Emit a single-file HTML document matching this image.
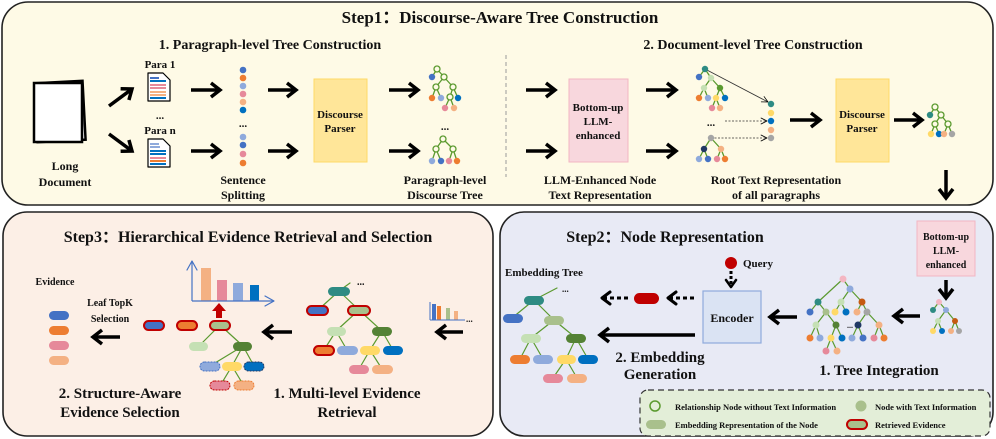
<!DOCTYPE html>
<html><head><meta charset="utf-8"><style>
html,body{margin:0;padding:0;background:#fff}
svg{display:block}
text{font-family:"Liberation Serif",serif;font-weight:bold;fill:#111}
path{stroke-linejoin:round;stroke-linecap:round}
</style></head><body>
<svg width="996" height="439" viewBox="0 0 996 439" xmlns="http://www.w3.org/2000/svg">
<defs>
<marker id="a" markerUnits="userSpaceOnUse" markerWidth="14" markerHeight="18" refX="11" refY="9" orient="auto"><path d="M2,2 L11,9 L2,16" fill="none" stroke="#000" stroke-width="3.5" style="stroke-linejoin:miter;stroke-linecap:butt"/></marker>
<marker id="s" markerUnits="userSpaceOnUse" markerWidth="8" markerHeight="8" refX="7" refY="4" orient="auto"><path d="M1,1 L7,4 L1,7" fill="none" stroke="#000" stroke-width="0.8"/></marker>
<marker id="r" markerUnits="userSpaceOnUse" markerWidth="12" markerHeight="12" refX="10" refY="6" orient="auto"><path d="M1,1 L10,6 L1,11" fill="none" stroke="#4472c4" stroke-width="1.2"/></marker>
</defs>

<!-- Step1 box -->
<rect x="2" y="2" width="991" height="203" rx="26" fill="#fefae6" stroke="#222" stroke-width="1.6"/>
<text x="500" y="23" font-size="17" text-anchor="middle">Step1：Discourse-Aware Tree Construction</text>
<text x="270" y="49" font-size="14" text-anchor="middle">1. Paragraph-level Tree Construction</text>
<text x="753" y="49" font-size="14" text-anchor="middle">2. Document-level Tree Construction</text>
<line x1="506" y1="55" x2="506" y2="177" stroke="#999" stroke-width="1" stroke-dasharray="4,3"/>

<!-- Long doc -->
<rect x="36" y="82" width="48" height="59" fill="#fff" stroke="#000" stroke-width="2.5" transform="rotate(-3 60 110)"/>
<rect x="34" y="83" width="48" height="59" fill="#fff" stroke="#000" stroke-width="2.5"/>
<text x="65" y="170" font-size="12" text-anchor="middle">Long</text>
<text x="65" y="186" font-size="12" text-anchor="middle">Document</text>
<g stroke="#000" stroke-width="3.5" marker-end="url(#a)">
<line x1="109" y1="106" x2="132" y2="89"/>
<line x1="109" y1="134" x2="132" y2="151"/>
</g>
<text x="160" y="68" font-size="11" text-anchor="middle">Para 1</text>
<text x="160" y="119" font-size="11" text-anchor="middle">...</text>
<text x="160" y="134" font-size="11" text-anchor="middle">Para n</text>
<!-- doc icons -->
<g>
<path d="M148,73 H163 L170,80 V101 H148 Z" fill="#fff" stroke="#000" stroke-width="1.2"/>
<rect x="150" y="77" width="9" height="2" fill="#4472c4"/><rect x="150" y="80" width="16" height="2" fill="#0070c0"/>
<rect x="150" y="84" width="16" height="2" fill="#e6899a"/><rect x="150" y="87" width="16" height="2" fill="#e6899a"/>
<rect x="150" y="91" width="16" height="2" fill="#f4b183"/><rect x="150" y="94" width="16" height="2" fill="#f4b183"/>
<rect x="150" y="97" width="16" height="2" fill="#0070c0"/>
<path d="M148,139 H163 L170,146 V167 H148 Z" fill="#fff" stroke="#000" stroke-width="1.2"/>
<rect x="150" y="143" width="9" height="2" fill="#8faadc"/><rect x="150" y="146" width="10" height="2" fill="#8faadc"/>
<rect x="150" y="150" width="16" height="2" fill="#0070c0"/><rect x="150" y="153" width="16" height="2" fill="#0070c0"/>
<rect x="150" y="157" width="16" height="2" fill="#e6899a"/><rect x="150" y="160" width="16" height="2" fill="#ed7d31"/>
<rect x="150" y="163" width="16" height="2" fill="#0070c0"/>
</g>
<g stroke="#000" stroke-width="3.5" marker-end="url(#a)">
<line x1="191" y1="90" x2="220" y2="90"/><line x1="191" y1="151" x2="220" y2="151"/>
<line x1="268" y1="90" x2="296" y2="90"/><line x1="268" y1="151" x2="296" y2="151"/>
<line x1="389" y1="90" x2="418" y2="90"/><line x1="389" y1="151" x2="418" y2="151"/>
<line x1="526" y1="90" x2="555" y2="90"/><line x1="526" y1="151" x2="555" y2="151"/>
<line x1="646" y1="90" x2="676" y2="90"/><line x1="646" y1="151" x2="676" y2="151"/>
<line x1="790" y1="120" x2="820" y2="120"/><line x1="894" y1="120" x2="922" y2="120"/>
<line x1="946" y1="170" x2="946" y2="198"/>
</g>
<!-- sentence dots -->
<g>
<circle cx="243" cy="70" r="3.3" fill="#4472c4"/><circle cx="243" cy="78" r="3.3" fill="#ed7d31"/>
<circle cx="243" cy="86" r="3.3" fill="#8faadc"/><circle cx="243" cy="94" r="3.3" fill="#e6899a"/>
<circle cx="243" cy="102" r="3.3" fill="#f4b183"/><circle cx="243" cy="110" r="3.3" fill="#0070c0"/>
<circle cx="243" cy="137" r="3.3" fill="#8faadc"/><circle cx="243" cy="145" r="3.3" fill="#4472c4"/>
<circle cx="243" cy="154" r="3.3" fill="#e6899a"/><circle cx="243" cy="163" r="3.3" fill="#ed7d31"/>
</g>
<text x="243" y="127" font-size="11" text-anchor="middle">...</text>
<text x="243" y="184" font-size="12" text-anchor="middle">Sentence</text>
<text x="243" y="199" font-size="12" text-anchor="middle">Splitting</text>
<!-- parsers -->
<rect x="314" y="79" width="53" height="83" fill="#ffe699" stroke="#ffd966"/>
<text x="340" y="118" font-size="11" text-anchor="middle">Discourse</text>
<text x="340" y="132" font-size="11" text-anchor="middle">Parser</text>
<rect x="836" y="79" width="53" height="83" fill="#ffe699" stroke="#ffd966"/>
<text x="862" y="118" font-size="11" text-anchor="middle">Discourse</text>
<text x="862" y="132" font-size="11" text-anchor="middle">Parser</text>
<!-- para trees -->
<g stroke="#5b9a2f" stroke-width="1.3" fill="none">
<path d="M437,69 L432,77 M437,69 L444,77 M444,77 L436,87 M444,77 L453,87 M436,87 L432,98 M436,87 L441,98 M453,87 L450,97 M453,87 L458,98 M450,97 L445,108 M450,97 L454,108"/>
<path d="M443,139 L436,149 M443,139 L453,149 M436,149 L432,161 M436,149 L441,161 M453,149 L449,161 M453,149 L457,161"/>
<path d="M935,107 L930,115 M935,107 L941,115 M941,115 L935,124 M941,115 L948,124 M935,124 L931,134 M935,124 L939,134 M948,124 L944,134 M948,124 L952,134"/>
</g>
<g fill="#fefae6" stroke="#5b9a2f" stroke-width="1.3">
<circle cx="437" cy="69" r="3"/><circle cx="444" cy="77" r="3"/><circle cx="436" cy="87" r="3"/><circle cx="453" cy="87" r="3"/><circle cx="450" cy="97" r="3"/>
<circle cx="443" cy="139" r="3"/><circle cx="436" cy="149" r="3"/><circle cx="453" cy="149" r="3"/>
<circle cx="935" cy="107" r="3"/><circle cx="941" cy="115" r="3"/><circle cx="935" cy="124" r="3"/><circle cx="948" cy="124" r="3"/>
</g>
<g>
<circle cx="432" cy="77" r="3.2" fill="#4472c4"/><circle cx="432" cy="98" r="3.2" fill="#ed7d31"/><circle cx="441" cy="98" r="3.2" fill="#8faadc"/><circle cx="458" cy="98" r="3.2" fill="#0070c0"/>
<circle cx="445" cy="108" r="3.2" fill="#e6899a"/><circle cx="454" cy="108" r="3.2" fill="#f4b183"/>
<circle cx="432" cy="161" r="3.2" fill="#8faadc"/><circle cx="441" cy="161" r="3.2" fill="#4472c4"/><circle cx="449" cy="161" r="3.2" fill="#e6899a"/><circle cx="457" cy="161" r="3.2" fill="#ed7d31"/>
<circle cx="930" cy="115" r="3.2" fill="#2e8b83"/><circle cx="931" cy="134" r="3.2" fill="#ffd966"/><circle cx="939" cy="134" r="3.2" fill="#0070c0"/><circle cx="944" cy="134" r="3.2" fill="#f4b183"/><circle cx="952" cy="134" r="3.2" fill="#a5a5a5"/>
</g>
<text x="445" y="130" font-size="11" text-anchor="middle">...</text>
<text x="445" y="184" font-size="12" text-anchor="middle">Paragraph-level</text>
<text x="445" y="199" font-size="12" text-anchor="middle">Discourse Tree</text>
<!-- LLM box -->
<rect x="569" y="79" width="59" height="83" fill="#f8d7dd" stroke="#f2b6c2"/>
<text x="598" y="111" font-size="11" text-anchor="middle">Bottom-up</text>
<text x="598" y="125" font-size="11" text-anchor="middle">LLM-</text>
<text x="598" y="139" font-size="11" text-anchor="middle">enhanced</text>
<text x="600" y="184" font-size="12" text-anchor="middle">LLM-Enhanced Node</text>
<text x="600" y="199" font-size="12" text-anchor="middle">Text Representation</text>
<!-- doc trees -->
<g stroke="#5b9a2f" stroke-width="1.3" fill="none">
<path d="M705,69 L699,77 M705,69 L711,78 M711,78 L704,88 M711,78 L720,88 M704,88 L699,98 M704,88 L708,98 M720,88 L716,98 M720,88 L725,98 M716,98 L712,108 M716,98 L720,108"/>
<path d="M711,138 L704,149 M711,138 L721,149 M704,149 L699,159 M704,149 L708,159 M721,149 L717,159 M721,149 L725,159"/>
</g>
<line x1="705" y1="69" x2="768" y2="102" stroke="#333" stroke-width="0.8" marker-end="url(#s)"/>
<line x1="725" y1="121" x2="767" y2="121" stroke="#333" stroke-width="0.8" stroke-dasharray="2,1.5" marker-end="url(#s)"/>
<line x1="711" y1="138" x2="767" y2="138" stroke="#333" stroke-width="0.8" stroke-dasharray="2,1.5" marker-end="url(#s)"/>
<g>
<circle cx="705" cy="69" r="3.2" fill="#2e8b83"/><circle cx="699" cy="77" r="3.2" fill="#4472c4"/><circle cx="711" cy="78" r="3.2" fill="#c5e0b4"/>
<circle cx="704" cy="88" r="3.2" fill="#c5e0b4"/><circle cx="720" cy="88" r="3.2" fill="#5b9a2f"/>
<circle cx="699" cy="98" r="3.2" fill="#ed7d31"/><circle cx="708" cy="98" r="3.2" fill="#8faadc"/><circle cx="716" cy="98" r="3.2" fill="#ffd966"/><circle cx="725" cy="98" r="3.2" fill="#0070c0"/>
<circle cx="712" cy="108" r="3.2" fill="#e6899a"/><circle cx="720" cy="108" r="3.2" fill="#f4b183"/>
<circle cx="711" cy="138" r="3.2" fill="#a5a5a5"/><circle cx="704" cy="149" r="3.2" fill="#203864"/><circle cx="721" cy="149" r="3.2" fill="#f4b183"/>
<circle cx="699" cy="159" r="3.2" fill="#8faadc"/><circle cx="708" cy="159" r="3.2" fill="#4472c4"/><circle cx="717" cy="159" r="3.2" fill="#e6899a"/><circle cx="725" cy="159" r="3.2" fill="#ed7d31"/>
<circle cx="771" cy="104" r="3.2" fill="#2e8b83"/><circle cx="771" cy="113" r="3.2" fill="#ffd966"/><circle cx="771" cy="121" r="3.2" fill="#0070c0"/><circle cx="771" cy="130" r="3.2" fill="#f4b183"/><circle cx="771" cy="138" r="3.2" fill="#a5a5a5"/>
</g>
<text x="711" y="126" font-size="11" text-anchor="middle">...</text>
<text x="776" y="184" font-size="12" text-anchor="middle">Root Text Representation</text>
<text x="776" y="199" font-size="12" text-anchor="middle">of all paragraphs</text>

<!-- Step3 box -->
<rect x="3" y="212" width="490" height="224" rx="24" fill="#fcefe6" stroke="#222" stroke-width="1.6"/>
<text x="248" y="242" font-size="16" text-anchor="middle">Step3：Hierarchical Evidence Retrieval and Selection</text>
<text x="55" y="285" font-size="10" text-anchor="middle">Evidence</text>
<text x="110" y="306" font-size="10" text-anchor="middle">Leaf TopK</text>
<text x="110" y="322" font-size="10" text-anchor="middle">Selection</text>
<rect x="49" y="311" width="20" height="9" rx="4.5" fill="#4472c4"/>
<rect x="49" y="326" width="20" height="9" rx="4.5" fill="#ed7d31"/>
<rect x="49" y="341" width="20" height="9" rx="4.5" fill="#e6899a"/>
<rect x="49" y="356" width="20" height="9" rx="4.5" fill="#f4b183"/>
<g stroke="#000" stroke-width="3.5" marker-end="url(#a)">
<line x1="120" y1="337" x2="93" y2="337"/>
<line x1="292" y1="332" x2="264" y2="332"/>
<line x1="463" y1="332" x2="437" y2="332"/>
</g>
<!-- chart -->
<rect x="201" y="268" width="10" height="33" fill="#f4b183"/>
<rect x="217" y="280" width="10" height="21" fill="#e6899a"/>
<rect x="233" y="283" width="10" height="18" fill="#8faadc"/>
<rect x="250" y="285" width="9" height="16" fill="#0070c0"/>
<line x1="192" y1="301" x2="274" y2="301" stroke="#4472c4" stroke-width="1.2" marker-end="url(#r)"/>
<line x1="192" y1="301" x2="192" y2="261" stroke="#4472c4" stroke-width="1.2" marker-end="url(#r)"/>
<path d="M216,318 V311 H212 L219,303 L226,311 H222 V318 Z" fill="#c00000" style="stroke:none"/>
<!-- selection tree -->
<g stroke="#5b9a2f" stroke-width="1.2" fill="none">
<path d="M220,325 L199,346 M220,325 L243,346 M243,346 L210,366 M243,346 L232,366 M243,346 L254,366 M232,366 L220,386 M232,366 L244,386"/>
<path d="M350,283 L339,291 M339,291 L318,310 M339,291 L359,310 M359,310 L336,331 M359,310 L382,331 M336,331 L324,350 M336,331 L347,350 M382,331 L370,350 M382,331 L393,350 M370,350 L359,369 M370,350 L382,369"/>
</g>
<rect x="144" y="321" width="20" height="9" rx="4.5" fill="#4472c4" stroke="#c00000" stroke-width="2"/>
<rect x="177" y="321" width="20" height="9" rx="4.5" fill="#ed7d31" stroke="#c00000" stroke-width="2"/>
<rect x="210" y="321" width="20" height="9" rx="4.5" fill="#a9c08c" stroke="#c00000" stroke-width="2"/>
<rect x="189" y="342" width="19" height="9" rx="4.5" fill="#c5e0b4"/>
<rect x="233" y="342" width="19" height="9" rx="4.5" fill="#548235"/>
<rect x="200" y="362" width="20" height="9" rx="4.5" fill="#8faadc" stroke="#4472c4" stroke-dasharray="2,1"/>
<rect x="222" y="362" width="20" height="9" rx="4.5" fill="#ffd966"/>
<rect x="244" y="362" width="20" height="9" rx="4.5" fill="#0070c0" stroke="#203864" stroke-dasharray="2,1"/>
<rect x="210" y="381" width="20" height="9" rx="4.5" fill="#e6899a" stroke="#c00000" stroke-dasharray="2,1"/>
<rect x="234" y="381" width="20" height="9" rx="4.5" fill="#f4b183" stroke="#ed7d31" stroke-dasharray="2,1"/>
<!-- retrieval tree -->
<text x="357" y="285" font-size="10">...</text>
<rect x="328" y="287" width="22" height="9" rx="4.5" fill="#2e8b83"/>
<rect x="307" y="306" width="21" height="9" rx="4.5" fill="#4472c4" stroke="#c00000" stroke-width="2"/>
<rect x="348" y="306" width="22" height="9" rx="4.5" fill="#a9c08c" stroke="#c00000" stroke-width="2"/>
<rect x="327" y="327" width="19" height="9" rx="4.5" fill="#c5e0b4"/>
<rect x="372" y="327" width="20" height="9" rx="4.5" fill="#548235"/>
<rect x="314" y="346" width="20" height="9" rx="4.5" fill="#ed7d31" stroke="#c00000" stroke-width="2"/>
<rect x="337" y="346" width="21" height="9" rx="4.5" fill="#8faadc"/>
<rect x="360" y="346" width="20" height="9" rx="4.5" fill="#ffd966"/>
<rect x="383" y="346" width="20" height="9" rx="4.5" fill="#0070c0"/>
<rect x="349" y="365" width="20" height="9" rx="4.5" fill="#e6899a"/>
<rect x="372" y="365" width="21" height="9" rx="4.5" fill="#f4b183"/>
<!-- small bars -->
<rect x="432" y="304" width="4" height="16" fill="#4472c4"/>
<rect x="437" y="306" width="4" height="14" fill="#ed7d31"/>
<rect x="446" y="308" width="4" height="12" fill="#a9c08c"/>
<rect x="454" y="311" width="4" height="9" fill="#f4b183"/>
<line x1="430" y1="320" x2="465" y2="320" stroke="#4472c4"/><line x1="430" y1="320" x2="430" y2="302" stroke="#4472c4"/>
<text x="466" y="322" font-size="9">...</text>
<text x="120" y="398" font-size="15" text-anchor="middle">2. Structure-Aware</text>
<text x="120" y="417" font-size="15" text-anchor="middle">Evidence Selection</text>
<text x="347" y="398" font-size="15" text-anchor="middle">1. Multi-level Evidence</text>
<text x="347" y="417" font-size="15" text-anchor="middle">Retrieval</text>

<!-- Step2 box -->
<rect x="500" y="212" width="493" height="224" rx="24" fill="#e8eaf5" stroke="#222" stroke-width="1.6"/>
<text x="665" y="242" font-size="16" text-anchor="middle">Step2：Node Representation</text>
<rect x="917" y="221" width="58" height="55" fill="#f8d7dd" stroke="#f2b6c2"/>
<text x="946" y="240" font-size="10" text-anchor="middle">Bottom-up</text>
<text x="946" y="254" font-size="10" text-anchor="middle">LLM-</text>
<text x="946" y="268" font-size="10" text-anchor="middle">enhanced</text>
<g stroke="#000" stroke-width="3.5" marker-end="url(#a)">
<line x1="920" y1="316" x2="894" y2="316"/>
<line x1="797" y1="317" x2="770" y2="317"/>
<line x1="695" y1="335" x2="600" y2="335"/>
<line x1="946" y1="280" x2="946" y2="298"/>
</g>
<!-- integration tree -->
<g stroke="#5b9a2f" stroke-width="1.2" fill="none">
<path d="M843,279 L818,302 M843,279 L850,289 M850,289 L841,302 M850,289 L862,302 M818,302 L810,312 M818,302 L826,312 M841,302 L835,312 M841,302 L846,312 M862,302 L857,312 M862,302 L867,312 M826,312 L816,325 M826,312 L836,325 M867,312 L858,325 M867,312 L879,325 M816,325 L810,338 M816,325 L820,338 M836,325 L831,338 M836,325 L842,338 M858,325 L852,338 M858,325 L863,338 M879,325 L874,338 M879,325 L884,338 M831,338 L826,351 M831,338 L837,351"/>
<path d="M939,302 L933,310 M939,302 L946,310 M946,310 L938,321 M946,310 L955,321 M938,321 L933,331 M938,321 L942,331 M955,321 L951,331 M955,321 L959,331"/>
</g>
<g>
<circle cx="843" cy="279" r="3.5" fill="#f4b6c2"/><circle cx="850" cy="289" r="3.5" fill="#8faadc"/>
<circle cx="818" cy="302" r="3.5" fill="#2e8b83"/><circle cx="841" cy="302" r="3.5" fill="#c5e0b4"/><circle cx="862" cy="302" r="3.5" fill="#c55a11"/>
<circle cx="810" cy="312" r="3.5" fill="#4472c4"/><circle cx="826" cy="312" r="3.5" fill="#a9c08c"/><circle cx="835" cy="312" r="3.5" fill="#ffd966"/><circle cx="846" cy="312" r="3.5" fill="#0070c0"/><circle cx="857" cy="312" r="3.5" fill="#f4b183"/><circle cx="867" cy="312" r="3.5" fill="#a5a5a5"/>
<circle cx="816" cy="325" r="3.5" fill="#c5e0b4"/><circle cx="836" cy="325" r="3.5" fill="#548235"/><circle cx="858" cy="325" r="3.5" fill="#203864"/><circle cx="879" cy="325" r="3.5" fill="#f4b183"/>
<circle cx="810" cy="338" r="3.5" fill="#ed7d31"/><circle cx="820" cy="338" r="3.5" fill="#8faadc"/><circle cx="831" cy="338" r="3.5" fill="#ffd966"/><circle cx="842" cy="338" r="3.5" fill="#0070c0"/><circle cx="852" cy="338" r="3.5" fill="#8faadc"/><circle cx="863" cy="338" r="3.5" fill="#4472c4"/><circle cx="874" cy="338" r="3.5" fill="#e6899a"/><circle cx="884" cy="338" r="3.5" fill="#ed7d31"/>
<circle cx="826" cy="351" r="3.5" fill="#e6899a"/><circle cx="837" cy="351" r="3.5" fill="#f4b183"/>
<circle cx="939" cy="302" r="3" fill="#f4b6c2"/><circle cx="933" cy="310" r="3" fill="#2e8b83"/><circle cx="946" cy="310" r="3" fill="#8faadc"/>
<circle cx="938" cy="321" r="3" fill="#c5e0b4"/><circle cx="955" cy="321" r="3" fill="#c55a11"/>
<circle cx="933" cy="331" r="3" fill="#ffd966"/><circle cx="942" cy="331" r="3" fill="#0070c0"/><circle cx="951" cy="331" r="3" fill="#f4b183"/><circle cx="959" cy="331" r="3" fill="#a5a5a5"/>
</g>
<text x="847" y="328" font-size="8">...</text>
<text x="879" y="375" font-size="15" text-anchor="middle">1.  Tree Integration</text>
<!-- encoder -->
<rect x="703" y="291" width="58" height="52" fill="#dae3f3" stroke="#8faadc" stroke-width="1.2"/>
<text x="732" y="322" font-size="12" text-anchor="middle">Encoder</text>
<circle cx="731" cy="263" r="6" fill="#c00000"/>
<text x="743" y="267" font-size="11">Query</text>
<line x1="731" y1="271" x2="731" y2="287" stroke="#000" stroke-width="3" stroke-dasharray="3,2"/>
<path d="M726,280 L731,287 L736,280" fill="none" stroke="#000" stroke-width="2.5"/>
<g stroke="#000" stroke-width="3" stroke-dasharray="4,3">
<line x1="694" y1="298" x2="669" y2="298"/><line x1="628" y1="298" x2="603" y2="298"/>
</g>
<path d="M676,292 L668,298 L676,304 M610,292 L602,298 L610,304" fill="none" stroke="#000" stroke-width="3"/>
<rect x="634" y="293" width="25" height="11" rx="5.5" fill="#c00000"/>
<text x="660" y="362" font-size="15" text-anchor="middle">2. Embedding</text>
<text x="660" y="379" font-size="15" text-anchor="middle">Generation</text>
<!-- embedding tree -->
<text x="505" y="276" font-size="11">Embedding Tree</text>
<text x="562" y="292" font-size="9">...</text>
<g stroke="#5b9a2f" stroke-width="1.2" fill="none">
<path d="M557,288 L534,300 M534,300 L512,318 M534,300 L554,320 M554,320 L531,338 M554,320 L576,338 M531,338 L520,359 M531,338 L543,359 M576,338 L566,359 M576,338 L588,359 M566,359 L553,378 M566,359 L577,378"/>
</g>
<rect x="524" y="296" width="20" height="9" rx="4.5" fill="#2e8b83"/>
<rect x="503" y="314" width="20" height="9" rx="4.5" fill="#4472c4"/>
<rect x="544" y="316" width="20" height="9" rx="4.5" fill="#a9c08c"/>
<rect x="521" y="334" width="20" height="9" rx="4.5" fill="#c5e0b4"/>
<rect x="566" y="334" width="20" height="9" rx="4.5" fill="#548235"/>
<rect x="510" y="355" width="20" height="9" rx="4.5" fill="#ed7d31"/>
<rect x="533" y="355" width="20" height="9" rx="4.5" fill="#8faadc"/>
<rect x="557" y="355" width="19" height="9" rx="4.5" fill="#ffd966"/>
<rect x="578" y="355" width="20" height="9" rx="4.5" fill="#0070c0"/>
<rect x="543" y="374" width="20" height="9" rx="4.5" fill="#e6899a"/>
<rect x="567" y="374" width="20" height="9" rx="4.5" fill="#f4b183"/>
<!-- legend -->
<rect x="640" y="390" width="350" height="46" rx="8" fill="#e3eed8" stroke="#333" stroke-dasharray="6,4" stroke-width="1.2"/>
<circle cx="655" cy="406" r="5" fill="none" stroke="#5b9a2f" stroke-width="1.5"/>
<text x="675" y="410" font-size="8.5">Relationship Node without Text Information</text>
<circle cx="861" cy="406" r="5.5" fill="#a9c08c"/>
<text x="875" y="410" font-size="8.5">Node with Text Information</text>
<rect x="646" y="420" width="20" height="9" rx="4.5" fill="#a9c08c"/>
<text x="675" y="428" font-size="8.5">Embedding Representation of the Node</text>
<rect x="847" y="420" width="20" height="9" rx="4.5" fill="#a9c08c" stroke="#c00000" stroke-width="2"/>
<text x="875" y="428" font-size="8.5">Retrieved Evidence</text>
</svg>
</body></html>
